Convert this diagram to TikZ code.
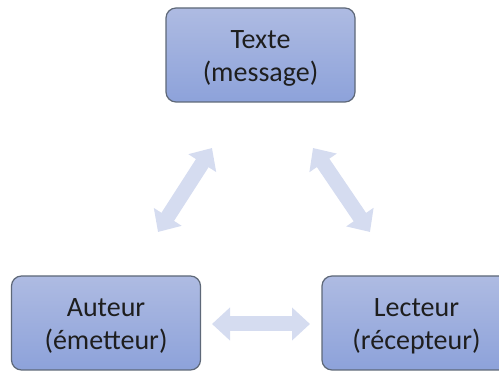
\documentclass[tikz,border=0pt]{standalone}
\usepackage{fontspec}
\setmainfont{Carlito}
\usetikzlibrary{arrows.meta}
\definecolor{boxtop}{HTML}{AEBBE2}
\definecolor{boxbot}{HTML}{8DA2DA}
\definecolor{boxline}{HTML}{5E6878}
\definecolor{arrfill}{HTML}{D5DCF0}
\definecolor{txt}{HTML}{1E1E1E}
\begin{document}
\begin{tikzpicture}[x=1pt,y=-1pt,
  box/.style={draw=boxline, line width=1.2pt, rounded corners=10pt,
    top color=boxtop, bottom color=boxbot,
    minimum width=189pt, minimum height=94pt, inner sep=0pt},
  lbl/.style={align=center, text=txt, inner sep=0pt, yshift=-3pt,
    font=\fontsize{28}{33}\selectfont},
  link/.style={draw=arrfill, line width=15pt,
    {Triangle[length=18pt,width=32pt]}-{Triangle[length=18pt,width=32pt]}}]
\useasboundingbox (0,0) rectangle (499,371);
\clip (0,0) rectangle (499,371);
\node[box] (texte) at (260.5,55) {};
\node[box] (auteur) at (106,323) {};
\node[box] (lecteur) at (416.5,323) {};
\node[lbl] (texteT) at (texte.center) {Texte\\(message)};
\node[lbl] (auteurT) at (auteur.center) {Auteur\\(émetteur)};
\node[lbl] (lecteurT) at (lecteur.center) {Lecteur\\(récepteur)};
\coordinate (a1) at (158,232);
\coordinate (a2) at (212,148);
\coordinate (b1) at (313,148);
\coordinate (b2) at (370,232);
\coordinate (c1) at (212,324);
\coordinate (c2) at (310,324);
\draw[link] (a1) -- (a2);
\draw[link] (b1) -- (b2);
\draw[link] (c1) -- (c2);
\end{tikzpicture}
\end{document}
